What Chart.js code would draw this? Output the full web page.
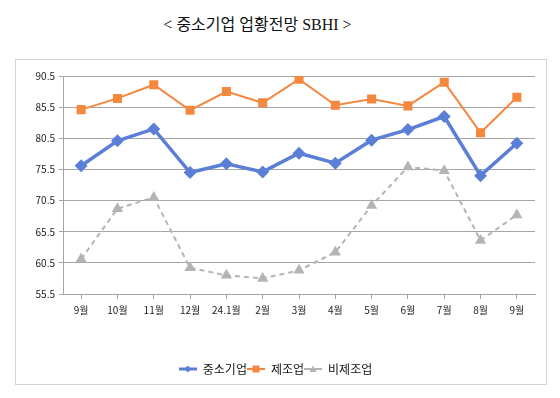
<!DOCTYPE html>
<html>
<head>
<meta charset="utf-8">
<script src="https://cdn.jsdelivr.net/npm/chart.js@4"></script>
<style>
  html, body { margin: 0; padding: 0; background: #fff; }
  body { width: 560px; height: 398px; position: relative; overflow: hidden; }
  #title {
    position: absolute; left: 0; top: 11px; width: 515px; text-align: center;
    font: 16px "Liberation Serif", "DejaVu Serif", "Noto Sans CJK KR", serif; color: #111;
  }
  #frame {
    position: absolute; left: 15px; top: 59px; width: 530px; height: 324px;
    border: 1px solid #d4d4d4;
  }
</style>
</head>
<body>
<div id="title">&lt; 중소기업 업황전망 SBHI &gt;</div>
<div id="frame"><canvas id="chart" width="530" height="324"></canvas></div>
<script>
// months on the x axis
const categories = ['9월', '10월', '11월', '12월', '24.1월', '2월', '3월', '4월', '5월', '6월', '7월', '8월', '9월'];

// series values
const smeValues = [76.1, 80.1, 82.0, 75.0, 76.4, 75.1, 78.1, 76.5, 80.2, 81.9, 84.0, 74.5, 79.7];
const mfgValues = [85.1, 86.9, 89.1, 85.0, 88.0, 86.2, 90.0, 85.8, 86.8, 85.7, 89.5, 81.4, 87.1];
const nonMfgValues = [61.1, 69.2, 71.0, 59.7, 58.5, 58.0, 59.3, 62.2, 69.7, 75.9, 75.3, 64.1, 68.2];

// y tick labels
const yTicks = [55.5, 60.5, 65.5, 70.5, 75.5, 80.5, 85.5, 90.5];

const tickFont = { family: "'Noto Sans CJK KR', 'Noto Sans', sans-serif", size: 10 };

// little line+marker swatch for the legend, excel style
function legendSwatch(ds) {
  const c = document.createElement('canvas');
  c.width = 18; c.height = 10;
  const g = c.getContext('2d');
  g.strokeStyle = ds.borderColor;
  g.fillStyle = ds.borderColor;
  g.lineWidth = ds.borderWidth > 2 ? 3 : 2;
  g.beginPath(); g.moveTo(0, 5); g.lineTo(18, 5); g.stroke();
  g.beginPath();
  if (ds.pointStyle === 'rectRot') {
    g.moveTo(9, 1.5); g.lineTo(12.5, 5); g.lineTo(9, 8.5); g.lineTo(5.5, 5);
  } else if (ds.pointStyle === 'rect') {
    g.rect(5.5, 1.5, 7, 7);
  } else {
    g.moveTo(9, 1.5); g.lineTo(12.5, 8); g.lineTo(5.5, 8);
  }
  g.closePath(); g.fill();
  return c;
}

const ctx = document.getElementById('chart').getContext('2d');
new Chart(ctx, {
  type: 'line',
  data: {
    labels: categories,
    datasets: [
      {
        label: '중소기업',
        data: smeValues,
        borderColor: '#5b7fd6',
        backgroundColor: '#5b7fd6',
        borderWidth: 3.5,
        pointStyle: 'rectRot',
        pointRadius: 4,
      },
      {
        label: '제조업',
        data: mfgValues,
        borderColor: '#f5883f',
        backgroundColor: '#f5883f',
        borderWidth: 2,
        pointStyle: 'rect',
        pointRadius: 5,
      },
      {
        label: '비제조업',
        data: nonMfgValues,
        borderColor: '#b4b4b4',
        backgroundColor: '#b4b4b4',
        borderWidth: 2,
        borderDash: [5, 4],
        pointStyle: 'triangle',
        pointRadius: 4.5,
      },
    ],
  },
  options: {
    responsive: false,
    animation: false,
    layout: { padding: { left: 0, right: 11, top: 16, bottom: -1 } },
    plugins: {
      title: { display: false },
      tooltip: { enabled: false },
      legend: {
        position: 'bottom',
        labels: {
          usePointStyle: true,
          pointStyleWidth: 18,
          boxHeight: 10,
          padding: 0,
          color: '#111',
          font: { family: "'Noto Sans CJK KR', sans-serif", size: 12 },
          generateLabels(chart) {
            return chart.data.datasets.map((ds, i) => ({
              text: ds.label,
              pointStyle: legendSwatch(ds),
              fillStyle: ds.borderColor,
              strokeStyle: ds.borderColor,
              lineWidth: 0,
              fontColor: '#111',
              hidden: false,
              datasetIndex: i,
            }));
          },
        },
      },
    },
    scales: {
      x: {
        offset: true,
        grid: { drawOnChartArea: false, drawTicks: true, tickLength: 5, color: '#a6a6a6' },
        border: { color: '#a6a6a6' },
        ticks: { color: '#222', font: tickFont, padding: 5, maxRotation: 0 },
        afterFit(scale) { scale.height = 69; },
      },
      y: {
        min: 55.5,
        max: 90.5,
        afterBuildTicks(scale) { scale.ticks = yTicks.map(v => ({ value: v })); },
        grid: { color: '#a6a6a6', tickLength: 4 },
        border: { color: '#a6a6a6' },
        ticks: { color: '#222', font: tickFont, padding: 4, callback: v => v.toFixed(1) },
        afterFit(scale) { scale.width = 47; },
      },
    },
  },
});
</script>
</body>
</html>
